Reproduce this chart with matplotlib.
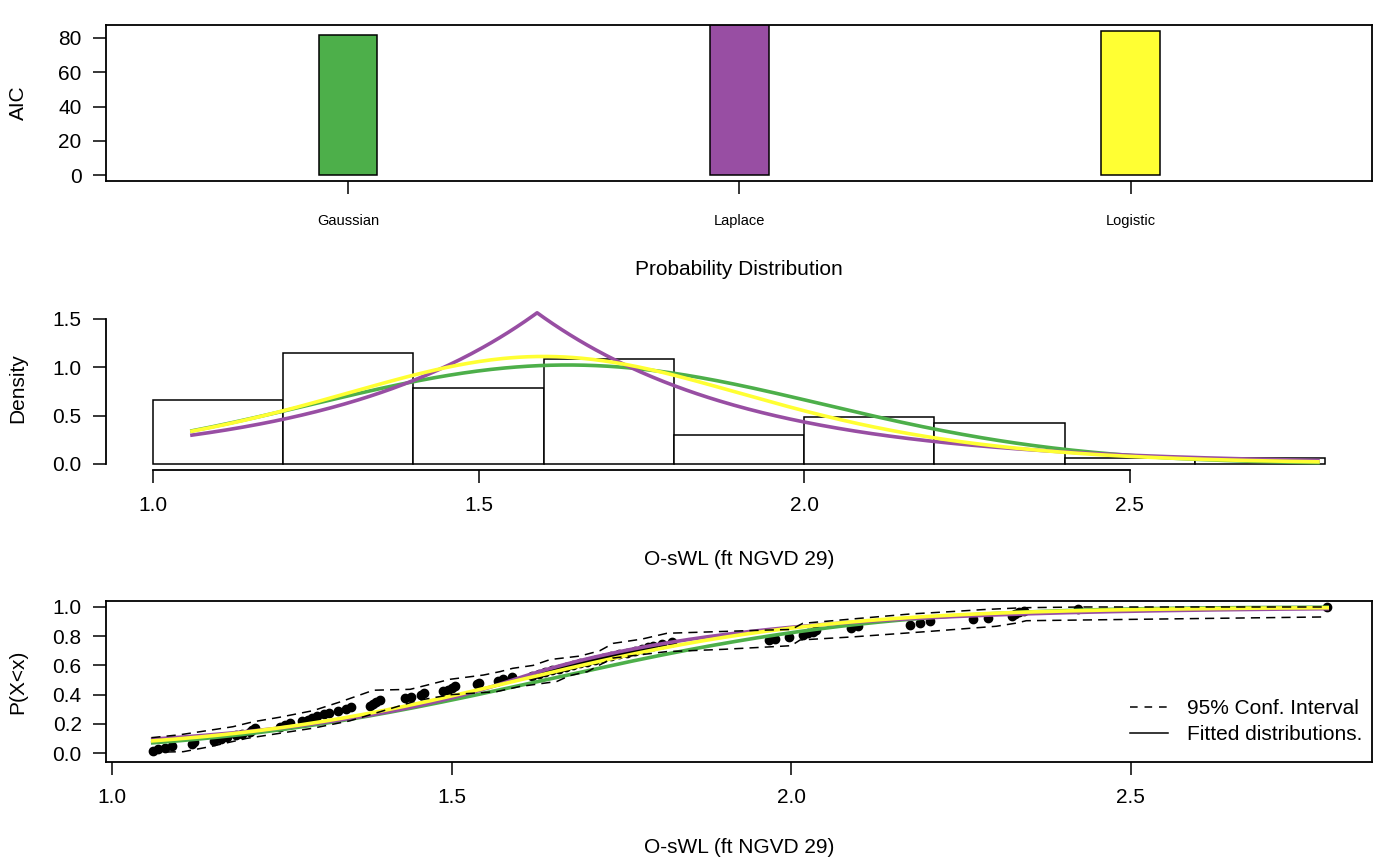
import numpy as np
import matplotlib
matplotlib.use("Agg")
import matplotlib.pyplot as plt
from matplotlib.lines import Line2D
from math import erf

plt.rcParams['font.family'] = ['Liberation Sans', 'DejaVu Sans']

# ---------------- data ----------------
dist_names = ["Gaussian", "Laplace", "Logistic"]
dist_colors = ["#4DAF4A", "#984EA3", "#FFFF33"]
aic_values = [81.5, 90.0, 84.2]

# observed O-sWL values (sorted), ft NGVD 29
obs_wl = [1.060, 1.068, 1.078, 1.088, 1.118, 1.121, 1.150, 1.160, 1.170, 1.183, 1.192,
          1.203, 1.206, 1.210, 1.248, 1.255, 1.262, 1.280, 1.288, 1.295, 1.302, 1.312,
          1.320, 1.333, 1.345, 1.352, 1.380, 1.385, 1.388, 1.395,
          1.432, 1.440, 1.455, 1.460, 1.487, 1.495, 1.500, 1.505, 1.537, 1.540, 1.568,
          1.575, 1.589,
          1.619, 1.628, 1.638, 1.648, 1.658, 1.668, 1.678, 1.689, 1.700, 1.711, 1.723,
          1.734, 1.746, 1.758, 1.770, 1.780, 1.789, 1.796,
          1.810, 1.825, 1.968, 1.976, 1.997,
          2.018, 2.025, 2.032, 2.036, 2.088, 2.098, 2.175, 2.190,
          2.205, 2.268, 2.290, 2.325, 2.330, 2.335, 2.342,
          2.422, 2.789]
hist_breaks = [1.0, 1.2, 1.4, 1.6, 1.8, 2.0, 2.2, 2.4, 2.6, 2.8]

# fitted parameters
gauss_mean, gauss_sd = 1.637, 0.39
laplace_loc, laplace_scale = 1.59, 0.32
logis_loc, logis_scale = 1.60, 0.225

ci_up_x = [1.058, 1.10, 1.13, 1.178, 1.208, 1.247, 1.296, 1.336, 1.385, 1.439, 1.498,
           1.547, 1.571, 1.59, 1.62, 1.645, 1.689, 1.718, 1.738, 1.78, 1.817, 1.964,
           2.0, 2.017, 2.10, 2.175, 2.234, 2.282, 2.341, 2.43, 2.789]
ci_up_y = [0.105, 0.125, 0.146, 0.18, 0.214, 0.245, 0.29, 0.35, 0.43, 0.436, 0.505,
           0.534, 0.557, 0.58, 0.60, 0.64, 0.664, 0.70, 0.751, 0.78, 0.82, 0.842,
           0.846, 0.888, 0.922, 0.952, 0.968, 0.982, 0.995, 1.0, 1.0]
ci_lo_x = [1.058, 1.105, 1.144, 1.198, 1.247, 1.296, 1.35, 1.40, 1.45, 1.50, 1.566,
           1.60, 1.655, 1.674, 1.70, 1.718, 1.737, 1.816, 1.90, 1.973, 2.0, 2.013,
           2.09, 2.204, 2.302, 2.332, 2.346, 2.788]
ci_lo_y = [0.005, 0.009, 0.043, 0.10, 0.135, 0.17, 0.22, 0.29, 0.36, 0.40, 0.42,
           0.455, 0.49, 0.53, 0.557, 0.603, 0.65, 0.694, 0.71, 0.728, 0.735, 0.774,
           0.795, 0.833, 0.868, 0.89, 0.906, 0.932]

# ---------------- distribution functions ----------------
def norm_pdf(x, m, s):
    return np.exp(-0.5 * ((x - m) / s) ** 2) / (s * np.sqrt(2 * np.pi))

def norm_cdf(x, m, s):
    return np.array([0.5 * (1 + erf((v - m) / (s * np.sqrt(2)))) for v in x])

def lap_pdf(x, m, b):
    return np.exp(-np.abs(x - m) / b) / (2 * b)

def lap_cdf(x, m, b):
    return np.where(x < m, 0.5 * np.exp((x - m) / b), 1 - 0.5 * np.exp(-(x - m) / b))

def logis_pdf(x, m, s):
    z = np.exp(-(x - m) / s)
    return z / (s * (1 + z) ** 2)

def logis_cdf(x, m, s):
    return 1 / (1 + np.exp(-(x - m) / s))

obs = np.array(obs_wl)
xs = np.union1d(np.linspace(obs.min(), obs.max(), 400), [laplace_loc])

W, H = 1400, 865
fig = plt.figure(figsize=(W / 100, H / 100), dpi=100)

def axes_px(left, right, top, bottom):
    return fig.add_axes([left / W, 1 - bottom / H, (right - left) / W, (bottom - top) / H])

LW = 1.1
FS = 15
TL = 9.5
CLW = 2.6

# ---------------- top panel: AIC ----------------
ax1 = axes_px(106, 1372, 25, 181)
pos = np.arange(1, len(dist_names) + 1)
ax1.bar(pos, aic_values, width=0.15, color=dist_colors, edgecolor="black", linewidth=LW)
ax1.set_xlim(0.382, 3.616)
ax1.set_ylim(-3.37, 87.57)
ax1.set_yticks([0, 20, 40, 60, 80])
ax1.set_xticks(pos)
ax1.set_xticklabels(dist_names, fontsize=10.5)
ax1.tick_params(axis='y', labelsize=FS, length=TL, width=LW, pad=8)
ax1.tick_params(axis='x', length=TL, width=LW, pad=14.5)
for sp in ax1.spines.values():
    sp.set_linewidth(1.3)
ax1.set_ylabel("AIC", fontsize=FS)
ax1.set_xlabel("Probability Distribution", fontsize=FS)

# ---------------- middle panel: histogram + densities ----------------
ax2 = axes_px(106, 1372, 307, 470)
ax2.hist(obs, bins=hist_breaks, density=True, facecolor="white", edgecolor="black",
         linewidth=LW, zorder=1)
ax2.plot(xs, norm_pdf(xs, gauss_mean, gauss_sd), color=dist_colors[0], lw=CLW, zorder=3)
ax2.plot(xs, lap_pdf(xs, laplace_loc, laplace_scale), color=dist_colors[1], lw=CLW, zorder=3)
ax2.plot(xs, logis_pdf(xs, logis_loc, logis_scale), color=dist_colors[2], lw=CLW, zorder=3)
ax2.set_xlim(0.928, 2.872)
ax2.set_ylim(-0.0624, 1.6224)
ax2.set_xticks([1.0, 1.5, 2.0, 2.5])
ax2.set_yticks([0.0, 0.5, 1.0, 1.5])
ax2.xaxis.set_major_formatter(matplotlib.ticker.FormatStrFormatter('%.1f'))
ax2.yaxis.set_major_formatter(matplotlib.ticker.FormatStrFormatter('%.1f'))
ax2.spines['top'].set_visible(False)
ax2.spines['right'].set_visible(False)
ax2.spines['left'].set_bounds(0.0, 1.5)
ax2.spines['bottom'].set_bounds(1.0, 2.5)
for sp in ('left', 'bottom'):
    ax2.spines[sp].set_linewidth(1.3)
ax2.tick_params(axis='y', labelsize=FS, length=TL, width=LW, pad=8)
ax2.tick_params(axis='x', labelsize=FS, length=TL, width=LW, pad=9)
ax2.set_ylabel("Density", fontsize=FS)
ax2.set_xlabel("O-sWL (ft NGVD 29)", fontsize=FS)

# ---------------- bottom panel: CDF ----------------
ax3 = axes_px(106, 1372, 601, 762)
ecdf_y = np.arange(1, len(obs) + 1) / len(obs)
ax3.plot(obs, ecdf_y, 'o', color="black", ms=6, zorder=2)
ax3.plot(xs, norm_cdf(xs, gauss_mean, gauss_sd), color=dist_colors[0], lw=CLW, zorder=3)
ax3.plot(xs, lap_cdf(xs, laplace_loc, laplace_scale), color=dist_colors[1], lw=CLW, zorder=3)
ax3.plot(xs, logis_cdf(xs, logis_loc, logis_scale), color=dist_colors[2], lw=CLW, zorder=3)
ax3.plot(ci_up_x, ci_up_y, color="black", lw=LW, dashes=(6, 4), zorder=4)
ax3.plot(ci_lo_x, ci_lo_y, color="black", lw=LW, dashes=(6, 4), zorder=4)
ax3.set_xlim(0.9912, 2.855)
ax3.set_ylim(-0.0616, 1.041)
ax3.set_xticks([1.0, 1.5, 2.0, 2.5])
ax3.set_yticks([0.0, 0.2, 0.4, 0.6, 0.8, 1.0])
ax3.xaxis.set_major_formatter(matplotlib.ticker.FormatStrFormatter('%.1f'))
ax3.yaxis.set_major_formatter(matplotlib.ticker.FormatStrFormatter('%.1f'))
for sp in ax3.spines.values():
    sp.set_linewidth(1.3)
ax3.tick_params(axis='y', labelsize=FS, length=TL, width=LW, pad=8)
ax3.tick_params(axis='x', labelsize=FS, length=TL, width=LW, pad=9)
ax3.set_ylabel("P(X<x)", fontsize=FS)
ax3.set_xlabel("O-sWL (ft NGVD 29)", fontsize=FS)

handles = [Line2D([], [], color="black", lw=LW, dashes=(5, 4.5)),
           Line2D([], [], color="black", lw=LW)]
ax3.legend(handles, ["95% Conf. Interval", "Fitted distributions."], loc="upper left",
           bbox_to_anchor=((1130 - 106) / 1266, (762 - 699) / 161), frameon=False,
           fontsize=FS, handlelength=1.8, handletextpad=0.95, labelspacing=0.35,
           borderpad=0, borderaxespad=0)

# label placement
for ax, ycen in ((ax1, -0.5705), (ax2, -0.552), (ax3, -0.528)):
    ax.xaxis.set_label_coords(0.5, ycen)
    ax.xaxis.label.set_verticalalignment('center')
    ax.yaxis.set_label_coords((18 - 106) / 1266, 0.5)
    ax.yaxis.label.set_verticalalignment('center')

fig.savefig("out.png", dpi=100, facecolor="white")
